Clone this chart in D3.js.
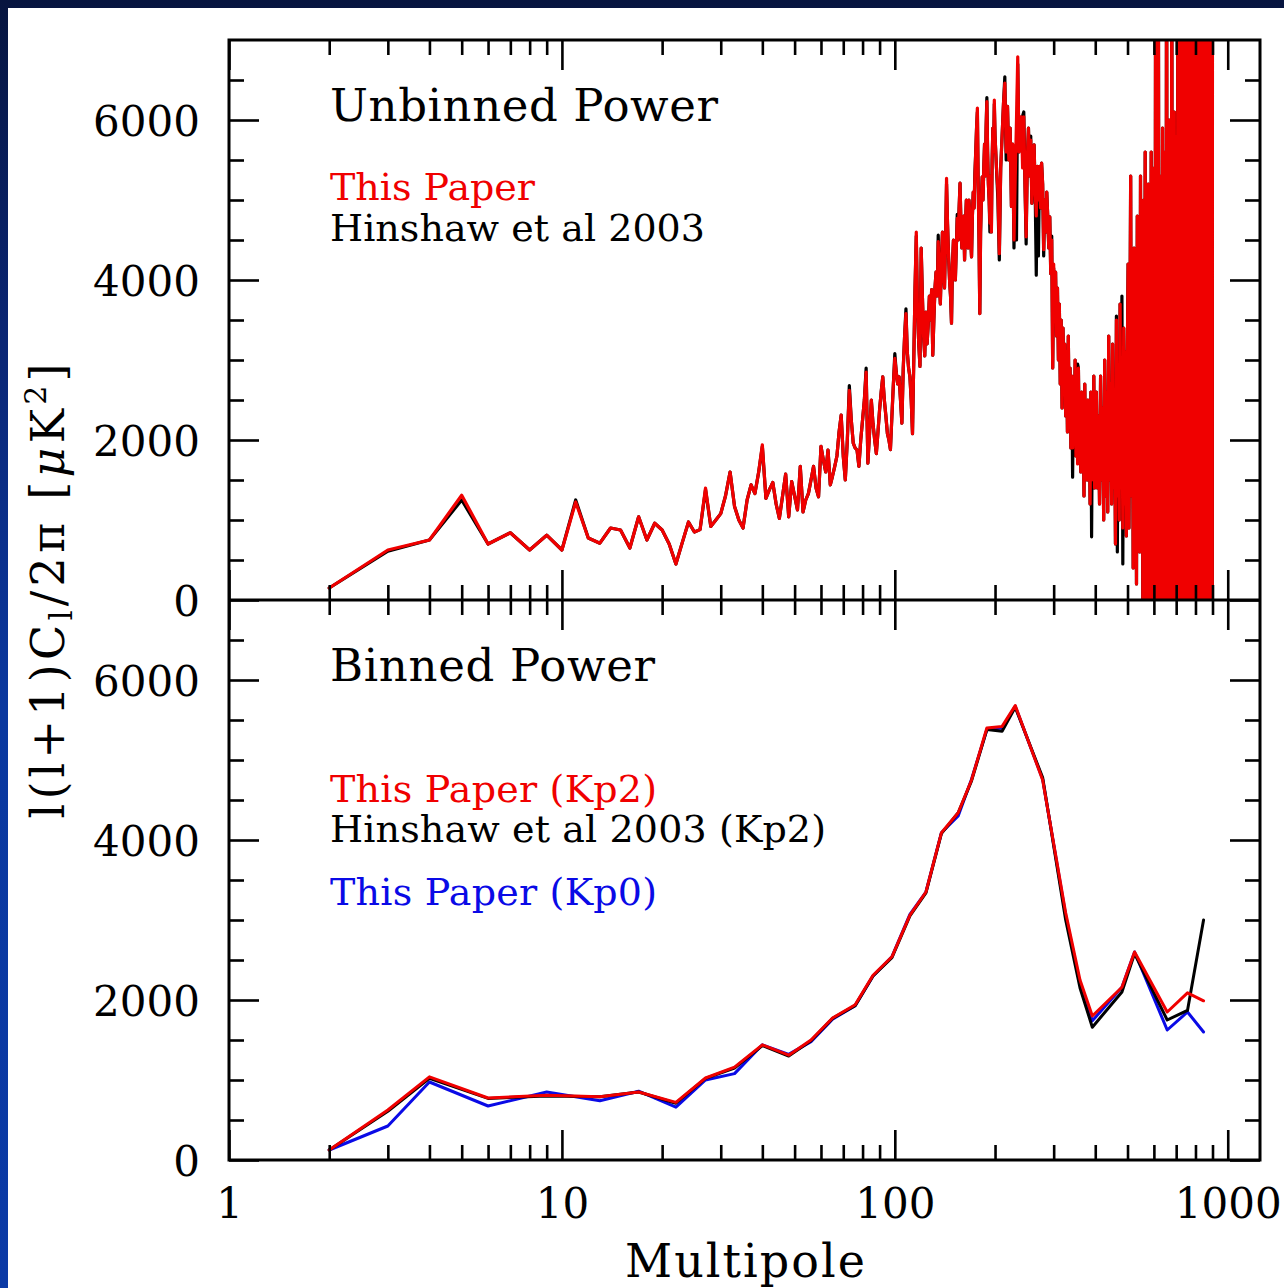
<!DOCTYPE html>
<html>
<head>
<meta charset="utf-8">
<script src="https://cdn.jsdelivr.net/npm/d3@7"></script>
<style>
  html, body { margin: 0; padding: 0; }
  body { width: 1284px; height: 1288px; overflow: hidden; background: #0a1d55; }
  svg { display: block; }
</style>
</head>
<body>
<svg id="chart" width="1284" height="1288"></svg>
<script>
// ---------------------------------------------------------------------------
// Unbinned power spectrum, l(l+1)C_l/2pi in uK^2.
// Multipoles 2..200 every l, 202..400 every 2nd l, 403..901 every 3rd l.
// ---------------------------------------------------------------------------
const ellSegA = d3.range(2, 201);
const ellSegB = d3.range(202, 401, 2);
const ellSegC = d3.range(403, 902, 3);

const thisPaperUnbinnedA = [
  150, 625, 750, 1310, 700, 840, 625, 810, 625, 1225,
  775, 710, 900, 875, 650, 1040, 750, 960, 875, 700,
  450, 720, 975, 850, 880, 1400, 920, 1000, 1080, 1300,
  1600, 1170, 1000, 900, 1250, 1440, 1330, 1600, 1940, 1270,
  1380, 1470, 1200, 1020, 1300, 1575, 1040, 1480, 1300, 1125,
  1670, 1100, 1250, 1330, 1500, 1670, 1400, 1290, 1920, 1750,
  1600, 1875, 1440, 1550, 1670, 1800, 2100, 2310, 1800, 1500,
  2000, 2620, 2250, 1960, 1900, 1875, 1670, 2000, 2250, 2500,
  2850, 1710, 2100, 2500, 2200, 2000, 1830, 2100, 2380, 2600,
  2790, 2500, 2300, 2080, 2000, 1880, 2300, 2700, 3020, 2850,
  2700, 2790, 2500, 2210, 2900, 3300, 3580, 3100, 2900, 2790,
  2500, 2080, 3000, 3900, 4600, 3600, 3200, 2920, 4400, 3800,
  3300, 3050, 3600, 3200, 3450, 3800, 3500, 3880, 3060, 3500,
  3900, 4100, 3800, 4480, 4000, 3700, 4200, 4600, 4100, 3900,
  4500, 5270, 4700, 4300, 4000, 3800, 3460, 4200, 4500, 4300,
  4000, 4400, 4770, 4500, 4900, 5210, 4700, 4400, 4600, 4800,
  4250, 4700, 5000, 4600, 4400, 5000, 4800, 4500, 4290, 4800,
  5100, 4900, 5290, 5600, 5900, 6150, 5200, 4500, 3580, 4600,
  5000, 5290, 5000, 5400, 5700, 5300, 5900, 6230, 5600, 5200,
  5000, 4710, 5300, 4600, 5500, 5900, 5600, 6250, 5800
];
const thisPaperUnbinnedB = [
  5400, 5120, 4330, 5400, 5800, 6200, 6460, 5600, 6170, 5500,
  5900, 4920, 5700, 4500, 5300, 6000, 6790, 5600, 5900, 6040,
  5400, 6040, 5200, 4540, 5500, 5900, 5300, 5750, 4960, 5400,
  5690, 5100, 4800, 5420, 5000, 5420, 4900, 5460, 5200, 4380,
  5000, 4600, 5100, 4790, 4400, 4790, 4080, 4500, 2900, 4200,
  3600, 4100, 3300, 3900, 3000, 3700, 2700, 3500, 2400, 3400,
  2700, 3200, 2300, 3100, 2100, 3300, 2200, 2900, 1900, 2800,
  1900, 2700, 2100, 3000, 1800, 2600, 1700, 2900, 2000, 2500,
  1600, 2600, 1900, 2300, 1300, 2700, 1800, 2200, 1500, 2500,
  1700, 2100, 1200, 2600, 1500, 2300, 1700, 2800, 1400, 2100
];
const thisPaperUnbinnedC = [
  2600, 1400, 2300, 1200, 2800, 1500, 2400, 1000, 3000, 1300,
  2600, 1100, 3300, 1500, 2700, 1200, 3200, 1400, 2500, 700,
  3500, 1300, 2900, 1000, 3700, 1400, 2800, 900, 3400, 1200,
  3100, 800, 2900,
  4200, 900, 3100, 5300, 1300, 3600, 400, 4400, 1800, 3900,
  200, 4800, 1500, 3400, 600, 5300, 1200, 4000, -200, 5000,
  900, 5600, -400, 4300, 1100, 5200, -600, 3800, 700, 5600,
  -900, 4700, 300,
  5400, -800, 7800, 1200, 4900, -1500, 8200, 600, 5300, -1200,
  4600, 2000, 5900, -2000, 4800, 300, 5600, -1800, 9400, 900,
  5200, -2500, 6000, 1500, 5100, -1200, 8700, 200, 5500, -3000,
  6100, 800, 5700,
  -2200, 5800, 600, 12000, -3500, 6300, -500, 9500, -2800, 6600,
  -1000, 9200, -4000, 11800, 100, 14500, -3200, 9900, -1800, 12600,
  -5000, 10800, -600, 15200, -3800, 9300, -2400, 13700, -6000, 11100,
  -1500, 16000, -4500, 10400, -2900, 14800, -7000, 12300, -2000, 17500,
  -5200, 11600, -3300, 15900, -8000, 13400, -2600, 18200, -6100, 12800,
  -4100, 16700, -9000, 14100, -3000, 19300, -7200, 13900, -4800, 17400,
  -10000, 15200, -3700, 20100, -8300, 14600, -5500, 18800
];

const hinshawUnbinnedA = [
  150, 610, 750, 1250, 700, 840, 625, 810, 625, 1250,
  775, 710, 900, 875, 650, 1040, 750, 960, 875, 700,
  450, 720, 975, 850, 880, 1380, 920, 1000, 1080, 1300,
  1600, 1170, 1000, 900, 1250, 1440, 1330, 1600, 1920, 1270,
  1380, 1470, 1200, 1020, 1300, 1575, 1040, 1480, 1300, 1125,
  1670, 1100, 1250, 1330, 1500, 1670, 1400, 1290, 1920, 1750,
  1600, 1875, 1440, 1550, 1670, 1800, 2100, 2310, 1800, 1500,
  2000, 2680, 2250, 1960, 1900, 1875, 1670, 2000, 2250, 2500,
  2900, 1710, 2100, 2500, 2200, 2000, 1830, 2100, 2380, 2600,
  2790, 2500, 2300, 2080, 2000, 1880, 2300, 2700, 3080, 2850,
  2700, 2790, 2500, 2210, 2900, 3300, 3640, 3100, 2900, 2790,
  2500, 2080, 3000, 3900, 4550, 3600, 3200, 2920, 4400, 3800,
  3300, 3050, 3600, 3200, 3450, 3800, 3500, 3880, 3060, 3500,
  3900, 4100, 3800, 4560, 4000, 3700, 4200, 4600, 4100, 3900,
  4500, 5200, 4700, 4300, 4000, 3800, 3460, 4200, 4500, 4300,
  4000, 4400, 4820, 4500, 4900, 5210, 4700, 4400, 4600, 4800,
  4250, 4700, 5000, 4600, 4400, 5000, 4800, 4500, 4290, 4800,
  5100, 4900, 5350, 5600, 5900, 6100, 5200, 4500, 3580, 4600,
  5000, 5290, 5000, 5400, 5700, 5300, 5900, 6280, 5600, 5200,
  5000, 4600, 5300, 4600, 5500, 5900, 5600, 6200, 5800
];
const hinshawUnbinnedB = [
  5400, 5000, 4250, 5400, 5800, 6200, 6540, 5500, 6170, 5500,
  5900, 4920, 5700, 4400, 5300, 4500, 6700, 5600, 5900, 6040,
  6050, 6100, 5200, 4450, 5500, 5900, 5300, 5800, 4960, 5400,
  5690, 5100, 4060, 5420, 4300, 5420, 4900, 5460, 5200, 4300,
  5000, 4600, 5100, 4790, 4400, 4790, 4080, 4550, 2900, 4150,
  3600, 4100, 3300, 3900, 3000, 3700, 2700, 3500, 2400, 3400,
  2700, 3200, 2300, 3100, 2100, 3300, 2200, 2900, 1900, 2800,
  1535, 2750, 2100, 3000, 1800, 2600, 2950, 2900, 2000, 2500,
  1600, 2600, 1900, 2300, 1300, 2700, 1800, 2200, 1500, 2500,
  1700, 2100, 1200, 2600, 790, 2300, 1700, 2800, 1400, 2150
];
const hinshawUnbinnedC = [
  2600, 1400, 2300, 1200, 2800, 1500, 2400, 1000, 3000, 1300,
  2600, 1100, 3300, 1500, 2700, 1200, 3200, 1400, 2500, 700,
  3550, 600, 2900, 1000, 3700, 1400, 3800, 450, 3400, 1200,
  3100, 800, 2900,
  4200, 900, 3100, 5300, 1300, 3600, 400, 4400, 1800, 3900,
  200, 4800, 1500, 3400, 600, 5300, 1200, 4900, -300, 5000,
  900, 5600, -400, 4300, 1100, 5200, -600, 3800, 700, 5600,
  -900, 4700, 300,
  5400, -800, 7800, 1200, 4900, -1500, 8200, 600, 5300, -1200,
  4600, 2000, 5900, -2000, 4800, 300, 5600, -1800, 9400, 900,
  5200, -2500, 6000, 1500, 5100, -1200, 8700, 200, 5500, -3000,
  6100, 800, 5700,
  -2200, 5800, 600, 12000, -3500, 6300, -500, 9500, -2800, 6600,
  -1000, 9200, -4000, 11800, 100, 14500, -3200, 9900, -1800, 12600,
  -5000, 10800, -600, 15200, -3800, 9300, -2400, 13700, -6000, 11100,
  -1500, 16000, -4500, 10400, -2900, 14800, -7000, 12300, -2000, 17500,
  -5200, 11600, -3300, 15900, -8000, 13400, -2600, 18200, -6100, 12800,
  -4100, 16700, -9000, 14100, -3000, 19300, -7200, 13900, -4800, 17400,
  -10000, 15200, -3700, 20100, -8300, 14600, -5500, 18800
];

// ---------------------------------------------------------------------------
// Binned power spectrum (bin centres in l).
// ---------------------------------------------------------------------------
const binnedEll = [2, 3, 4, 6, 9, 13, 17, 22, 27, 33, 40, 48, 56, 65, 76, 86, 98, 111,
  124, 138, 155, 170, 189, 210, 230, 278, 326, 360, 392, 481, 525, 658, 757, 846];
const thisPaperKp2 = [125, 625, 1040, 775, 810, 790, 850, 720, 1025, 1160, 1440, 1310, 1500,
  1775, 1940, 2310, 2540, 3060, 3350, 4090, 4340, 4750, 5400, 5420, 5680, 4750, 3090, 2250,
  1800, 2160, 2600, 1850, 2090, 1990];
const hinshawKp2 = [125, 610, 1020, 770, 800, 790, 850, 710, 1020, 1150, 1430, 1300, 1490,
  1770, 1930, 2300, 2530, 3050, 3340, 4080, 4340, 4740, 5380, 5360, 5660, 4780, 3000, 2150,
  1660, 2100, 2580, 1750, 1870, 3000];
const thisPaperKp0 = [125, 425, 975, 675, 850, 740, 860, 660, 1000, 1080, 1440, 1320, 1480,
  1760, 1930, 2300, 2540, 3070, 3350, 4090, 4300, 4760, 5380, 5400, 5670, 4760, 3060, 2200,
  1740, 2160, 2600, 1625, 1850, 1600];

// Axis ticks and labels
const majorX = [1, 10, 100, 1000];
const minorX = [2, 3, 4, 5, 6, 7, 8, 9, 20, 30, 40, 50, 60, 70, 80, 90,
  200, 300, 400, 500, 600, 700, 800, 900];
const xTickLabels = ["1", "10", "100", "1000"];
const majorY = [0, 2000, 4000, 6000];
const minorY = [500, 1000, 1500, 2500, 3000, 3500, 4500, 5000, 5500, 6500];
const yTickLabels = ["0", "2000", "4000", "6000"];

// ---------------------------------------------------------------------------
const W = 1284, H = 1288;
const FONT = "DejaVu Serif";
const RED = "#f00000", BLUE = "#0a0ae6", BLACK = "#000";

const svg = d3.select("#chart");
const defs = svg.append("defs");

const bg = defs.append("linearGradient").attr("id", "slideBg")
  .attr("x1", 0).attr("y1", 0).attr("x2", 0).attr("y2", 1);
bg.append("stop").attr("offset", 0).attr("stop-color", "#07153f");
bg.append("stop").attr("offset", 0.25).attr("stop-color", "#0a2572");
bg.append("stop").attr("offset", 0.55).attr("stop-color", "#0a389f");
bg.append("stop").attr("offset", 1).attr("stop-color", "#0b3aa6");

svg.append("rect").attr("width", W).attr("height", H).attr("fill", "url(#slideBg)");
svg.append("rect").attr("x", 8).attr("y", 8).attr("width", W - 8).attr("height", H - 8)
  .attr("fill", "#fff");

const plotLeft = 229, plotRight = 1260, plotTop = 40, plotMid = 600, plotBottom = 1160;

const x = d3.scaleLog().domain([1, 1250]).range([plotLeft, plotRight]);
const yTop = d3.scaleLinear().domain([0, 7000]).range([plotMid, plotTop]);
const yBot = d3.scaleLinear().domain([0, 7000]).range([plotBottom, plotMid]);

const panels = [
  { id: "clipTop", y: yTop, y0: plotTop, y1: plotMid },
  { id: "clipBot", y: yBot, y0: plotMid, y1: plotBottom }
];

panels.forEach(p => {
  defs.append("clipPath").attr("id", p.id).append("rect")
    .attr("x", plotLeft).attr("y", p.y0)
    .attr("width", plotRight - plotLeft).attr("height", p.y1 - p.y0);
});

function zip(ells, vals) {
  const n = Math.min(ells.length, vals.length);
  return d3.range(n).map(i => [ells[i], vals[i]]);
}

const unbinnedEll = [...ellSegA, ...ellSegB, ...ellSegC];
const thisPaperUnbinned = zip(unbinnedEll,
  [...thisPaperUnbinnedA, ...thisPaperUnbinnedB, ...thisPaperUnbinnedC]);
const hinshawUnbinned = zip(unbinnedEll,
  [...hinshawUnbinnedA, ...hinshawUnbinnedB, ...hinshawUnbinnedC]);

// ---- data lines ----
function drawLine(panel, data, color, width) {
  const line = d3.line().x(d => x(d[0])).y(d => panel.y(d[1]));
  svg.append("path")
    .attr("clip-path", `url(#${panel.id})`)
    .attr("d", line(data))
    .attr("fill", "none")
    .attr("stroke", color)
    .attr("stroke-width", width)
    .attr("stroke-linejoin", "round")
    .attr("stroke-linecap", "round");
}

drawLine(panels[0], hinshawUnbinned, BLACK, 3.2);
drawLine(panels[0], thisPaperUnbinned, RED, 3.2);

drawLine(panels[1], zip(binnedEll, thisPaperKp0), BLUE, 3);
drawLine(panels[1], zip(binnedEll, hinshawKp2), BLACK, 3);
drawLine(panels[1], zip(binnedEll, thisPaperKp2), RED, 3);

// ---- frame and ticks ----
function styleTicks(g) {
  g.select(".domain").remove();
  g.selectAll(".tick line").attr("stroke", "#000").attr("stroke-width", 2.6);
}

panels.forEach(p => {
  [[majorX, 30], [minorX, 15]].forEach(([vals, size]) => {
    svg.append("g").attr("transform", `translate(0,${p.y1})`)
      .call(d3.axisTop(x).tickValues(vals).tickSize(size).tickFormat(""))
      .call(styleTicks);
    svg.append("g").attr("transform", `translate(0,${p.y0})`)
      .call(d3.axisBottom(x).tickValues(vals).tickSize(size).tickFormat(""))
      .call(styleTicks);
  });
  [[majorY, 30], [minorY, 15]].forEach(([vals, size]) => {
    svg.append("g").attr("transform", `translate(${plotLeft},0)`)
      .call(d3.axisRight(p.y).tickValues(vals).tickSize(size).tickFormat(""))
      .call(styleTicks);
    svg.append("g").attr("transform", `translate(${plotRight},0)`)
      .call(d3.axisLeft(p.y).tickValues(vals).tickSize(size).tickFormat(""))
      .call(styleTicks);
  });
  // y tick labels
  svg.append("g").attr("transform", `translate(${plotLeft},0)`)
    .call(d3.axisLeft(p.y).tickValues(majorY).tickSize(0).tickPadding(29)
      .tickFormat((d, i) => yTickLabels[i]))
    .call(g => {
      g.select(".domain").remove();
      g.selectAll("text").attr("font-family", FONT).attr("font-size", 42)
        .attr("fill", "#000").attr("dy", "0.36em");
    });
});

// x tick labels
svg.append("g").attr("transform", `translate(0,${plotBottom})`)
  .call(d3.axisBottom(x).tickValues(majorX).tickSize(0).tickPadding(28)
    .tickFormat((d, i) => xTickLabels[i]))
  .call(g => {
    g.select(".domain").remove();
    g.selectAll("text").attr("font-family", FONT).attr("font-size", 42).attr("fill", "#000");
  });

svg.append("rect").attr("x", plotLeft).attr("y", plotTop)
  .attr("width", plotRight - plotLeft).attr("height", plotBottom - plotTop)
  .attr("fill", "none").attr("stroke", "#000").attr("stroke-width", 3);
svg.append("line").attr("x1", plotLeft).attr("x2", plotRight)
  .attr("y1", plotMid).attr("y2", plotMid)
  .attr("stroke", "#000").attr("stroke-width", 3);

// ---- annotations ----
function label(txt, xPos, yPos, size, color, len) {
  svg.append("text").attr("x", xPos).attr("y", yPos)
    .attr("font-family", FONT).attr("font-size", size).attr("fill", color)
    .attr("textLength", len).attr("lengthAdjust", "spacing")
    .text(txt);
}

label("Unbinned Power", 330, 121, 45, "#000", 388);
label("This Paper", 330, 200, 38, RED, 205);
label("Hinshaw et al 2003", 330, 241, 38, "#000", 375);

label("Binned Power", 330, 681, 45, "#000", 325);
label("This Paper (Kp2)", 330, 802, 38, RED, 327);
label("Hinshaw et al 2003 (Kp2)", 330, 842, 38, "#000", 496);
label("This Paper (Kp0)", 330, 905, 38, BLUE, 327);

// axis titles
svg.append("text").attr("x", 745).attr("y", 1277).attr("text-anchor", "middle")
  .attr("font-family", FONT).attr("font-size", 46).attr("fill", "#000")
  .attr("textLength", 240).attr("lengthAdjust", "spacing")
  .text("Multipole");

const yTitle = svg.append("text")
  .attr("transform", "translate(64,591) rotate(-90)")
  .attr("text-anchor", "middle")
  .attr("font-family", FONT).attr("font-size", 46).attr("fill", "#000")
  .attr("textLength", 455).attr("lengthAdjust", "spacing");
yTitle.append("tspan").text("l(l+1)C");
yTitle.append("tspan").attr("font-size", 32).attr("dy", 8).text("l");
yTitle.append("tspan").attr("dy", -8).text("/2π [");
yTitle.append("tspan").attr("font-style", "italic").text("μ");
yTitle.append("tspan").text("K");
yTitle.append("tspan").attr("font-size", 30).attr("dy", -18).text("2");
yTitle.append("tspan").attr("dy", 18).text("]");
</script>
</body>
</html>
